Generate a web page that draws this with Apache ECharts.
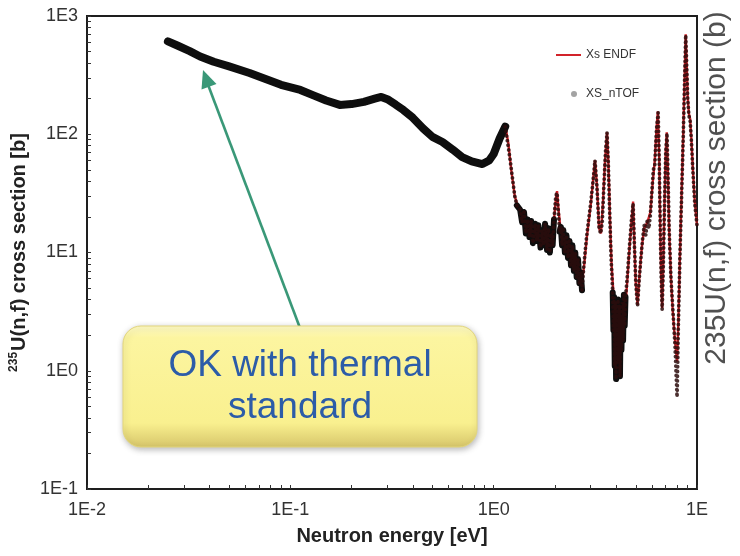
<!DOCTYPE html>
<html>
<head>
<meta charset="utf-8">
<script src="https://cdn.jsdelivr.net/npm/echarts@6/dist/echarts.min.js"></script>
<style>
  html, body { margin: 0; padding: 0; background: #ffffff; }
  #chart { width: 740px; height: 556px; }
</style>
</head>
<body>
<div id="chart"></div>
<script>
// Axis tick labels (log decades)
const xTickLabels = ['1E-2', '1E-1', '1E0', '1E'];
const yTickLabels = ['1E-1', '1E0', '1E1', '1E2', '1E3'];

// n_TOF measured 235U(n,f) cross section: energy [eV] and cross section [b]
const ntofEnergy = [
  0.025, 0.028, 0.032, 0.036, 0.042, 0.05, 0.063, 0.075, 0.09, 0.112,
  0.13, 0.15, 0.175, 0.2, 0.23, 0.26, 0.28, 0.3, 0.33, 0.36,
  0.4, 0.45, 0.5, 0.56, 0.63, 0.7, 0.78, 0.88, 0.95, 1.0,
  1.07, 1.14, 1.2, 1.27, 1.3, 1.35, 1.38, 1.41, 1.44, 1.47,
  1.5, 1.53, 1.56, 1.6, 1.63, 1.66, 1.7, 1.73, 1.76, 1.79,
  1.83, 1.86, 1.89, 1.92, 1.95, 1.98, 2.02, 2.05, 2.08, 2.11,
  2.14, 2.17, 2.2, 2.24, 2.28, 2.32, 2.36, 2.4, 2.44, 2.48,
  2.52, 2.56, 2.6, 2.64, 2.68, 2.72, 2.78, 2.85, 2.92, 3.0,
  3.08, 3.15, 3.22, 3.3, 3.36, 3.42, 3.48, 3.55, 3.61, 3.66,
  3.72, 3.78, 3.85, 3.88, 3.91, 3.94, 3.97, 4.0, 4.03, 4.06,
  4.09, 4.12, 4.15, 4.18, 4.21, 4.25, 4.29, 4.33, 4.37, 4.41,
  4.45, 4.55, 4.65, 4.75, 4.85, 4.92, 5.0, 5.1, 5.2, 5.3,
  5.4, 5.5, 5.6, 5.7, 5.8, 5.9, 6.0, 6.1, 6.2, 6.32,
  6.44, 6.52, 6.6, 6.67, 6.74, 6.82, 6.92, 7.02, 7.12, 7.2,
  7.3, 7.45, 7.6, 7.8, 7.98, 8.1, 8.25, 8.4, 8.55, 8.68,
  8.8, 8.9, 9.0, 9.12, 9.25, 9.38, 9.55, 9.75, 10.0
];
const ntofXs = [
  610, 560, 505, 455, 410, 375, 330, 295, 262, 237,
  213, 193, 177, 180, 188, 200, 207, 198, 178, 160,
  138, 112, 95, 86, 74, 64, 59, 56, 60, 68,
  92, 116, 64, 30, 25, 23, 18, 22, 14.5, 19,
  13.5, 18.5, 12, 17.5, 12.5, 17, 11, 15.5, 11.5, 17.5,
  10.5, 16, 10, 14.5, 11.5, 19, 30, 32, 22, 15,
  16.5, 11.5, 15.5, 10, 14, 9, 12.5, 7.8, 11.5, 7,
  10, 6.2, 8.8, 5.5, 6.8, 4.8, 8, 12.5, 18, 26,
  40, 60, 36, 16, 14.5, 18, 35, 72, 103, 58,
  22, 9, 4.6, 2.2, 4.2, 1.1, 3.8, 0.85, 3.2, 1.4,
  4.0, 1.2, 3.6, 0.9, 2.9, 1.5, 3.8, 1.8, 4.4, 2.4,
  4.2, 6.5, 11, 18, 26, 12, 5.5, 3.5, 6, 9,
  13, 17, 14, 19, 16, 21, 33, 50, 55, 110,
  152, 60, 15, 6, 3.3, 7, 25, 70, 102, 45,
  15, 6, 3.4, 1.6, 0.6, 2.5, 10, 30, 90, 260,
  690, 380, 200, 145, 130, 90, 48, 26, 17
];

// ENDF evaluated cross section: energy [eV] and cross section [b]
const endfEnergy = [
  1.0, 1.05, 1.1, 1.14, 1.18, 1.22, 1.27, 1.33, 1.45, 1.6,
  1.75, 1.9, 1.98, 2.03, 2.05, 2.08, 2.13, 2.25, 2.4, 2.55,
  2.7, 2.78, 2.88, 3.0, 3.1, 3.15, 3.22, 3.3, 3.37, 3.45,
  3.53, 3.61, 3.67, 3.73, 3.8, 3.9, 4.05, 4.2, 4.35, 4.45,
  4.55, 4.65, 4.75, 4.85, 4.92, 5.0, 5.1, 5.2, 5.35, 5.5,
  5.7, 5.9, 6.05, 6.2, 6.32, 6.42, 6.52, 6.6, 6.67, 6.74,
  6.82, 6.92, 7.02, 7.1, 7.2, 7.3, 7.45, 7.6, 7.8, 7.98,
  8.1, 8.25, 8.4, 8.55, 8.68, 8.8, 8.9, 9.0, 9.12, 9.25,
  9.38, 9.55, 9.75, 10.0
];
const endfXs = [
  68, 80, 105, 118, 85, 50, 30, 23, 17.5, 14.5,
  13.5, 14, 19, 30, 33, 24, 16, 12, 9.5, 7.5,
  5.2, 7.5, 14, 25, 45, 60, 37, 16, 14.5, 27,
  60, 104, 55, 20, 8, 4, 2.5, 2.2, 2.8, 3.6,
  6, 10.5, 17, 27, 12, 5.5, 3.6, 6, 11, 16,
  18, 22, 38, 60, 110, 156, 62, 15, 6, 3.4,
  7.5, 26, 72, 104, 44, 15, 6, 3.2, 1.8, 1.2,
  2.6, 10, 32, 95, 270, 700, 390, 210, 150, 135,
  92, 50, 27, 17
];

// log tick positions: 1..9 per decade
function logTicks(lo, hi) {
  const out = [];
  for (let d = lo; d < hi; d++) {
    for (let k = 1; k <= 9; k++) out.push(+(k * Math.pow(10, d)).toPrecision(3));
  }
  out.push(Math.pow(10, hi));
  return out;
}
const decadeIndex = v => Math.round(Math.log10(v));

const ntofPts = ntofEnergy.map((e, i) => [e, ntofXs[i]]);
const endfPts = endfEnergy.map((e, i) => [e, endfXs[i]]);

// the measured data is drawn as a dense black band where the points pile up,
// and as dotted markers over the evaluation in the resolved resonances
const noisyRanges = [[1.3, 1.98], [2.11, 2.72], [3.85, 4.45]];
const ntofColor = '#0e0e0e';
const endfColor = '#d2232a';

const series = [
  {
    name: 'Xs ENDF', type: 'line', data: endfPts, symbol: 'none', z: 2,
    itemStyle: { color: endfColor },
    lineStyle: { color: endfColor, width: 2.4 }
  },
  {
    name: 'XS_nTOF', type: 'line', data: ntofPts.filter(p => p[0] <= 1.14), symbol: 'none', z: 3,
    itemStyle: { color: ntofColor },
    lineStyle: { color: ntofColor, width: 8, cap: 'round', join: 'round' }
  }
];
noisyRanges.forEach(r => {
  series.push({
    name: 'XS_nTOF', type: 'line', symbol: 'none', z: 3,
    data: ntofPts.filter(p => p[0] >= r[0] && p[0] <= r[1]),
    itemStyle: { color: ntofColor },
    lineStyle: { color: ntofColor, width: 6, cap: 'round', join: 'round' }
  });
});
series.push({
  name: 'XS_nTOF', type: 'line', symbol: 'none', z: 4,
  data: ntofPts.filter(p => p[0] >= 1.14),
  itemStyle: { color: '#2c0c0c' },
  lineStyle: { color: '#2c0c0c', width: 3.8, type: [0.1, 4.6], cap: 'round', opacity: 0.85 }
});

const chart = echarts.init(document.getElementById('chart'), null, { renderer: 'canvas' });

chart.setOption({
  animation: false,
  backgroundColor: '#ffffff',
  textStyle: { fontFamily: 'Liberation Sans, Arial, sans-serif' },
  grid: {
    left: 87, right: 43, top: 16, bottom: 67,
    show: true, borderColor: '#1e1e1e', borderWidth: 2,
    outerBoundsMode: 'none'
  },
  legend: [
    {
      data: [{ name: 'Xs ENDF', icon: 'rect', itemStyle: { color: endfColor } }],
      left: 551, top: 44, orient: 'vertical',
      itemWidth: 25, itemHeight: 2, selectedMode: false,
      textStyle: { fontSize: 12, color: '#333' }
    },
    {
      data: [{ name: 'XS_nTOF', icon: 'circle', itemStyle: { color: '#a3a3a3' } }],
      left: 566, top: 83, orient: 'vertical',
      itemWidth: 6, itemHeight: 6, selectedMode: false,
      textStyle: { fontSize: 12, color: '#333', padding: [0, 0, 0, 4] }
    }
  ],
  xAxis: {
    type: 'log', logBase: 10, min: 0.01, max: 10,
    name: 'Neutron energy [eV]', nameLocation: 'middle', nameGap: 37,
    nameTextStyle: { fontSize: 20, fontWeight: 'bold', color: '#222' },
    axisLine: { show: true, lineStyle: { color: '#1e1e1e', width: 2 } },
    axisTick: { show: true, inside: true, length: 4, lineStyle: { color: '#333', width: 1 },
      customValues: logTicks(-2, 1) },
    minorTick: { show: false },
    splitLine: { show: false },
    axisLabel: {
      fontSize: 18, color: '#333', margin: 12,
      customValues: [0.01, 0.1, 1, 10],
      formatter: v => xTickLabels[decadeIndex(v) + 2]
    }
  },
  yAxis: {
    type: 'log', logBase: 10, min: 0.1, max: 1000,
    name: '{sup|235}{t|U(n,f) cross section [b]}', nameLocation: 'middle', nameGap: 50,
    nameRotate: 90,
    nameTextStyle: {
      fontSize: 20, fontWeight: 'bold', color: '#222',
      rich: {
        sup: { fontSize: 12, fontWeight: 'bold', color: '#222', verticalAlign: 'top', lineHeight: 22, padding: [0, 1, 8, 0] },
        t: { fontSize: 20, fontWeight: 'bold', color: '#222', lineHeight: 22 }
      }
    },
    axisLine: { show: true, lineStyle: { color: '#1e1e1e', width: 2 } },
    axisTick: { show: true, inside: true, length: 4, lineStyle: { color: '#333', width: 1 },
      customValues: logTicks(-1, 3) },
    minorTick: { show: false },
    splitLine: { show: false },
    axisLabel: {
      fontSize: 18, color: '#333', margin: 9,
      customValues: [0.1, 1, 10, 100, 1000],
      formatter: v => yTickLabels[decadeIndex(v) + 1]
    }
  },
  series: series,
  graphic: [
    {
      type: 'text', x: 717, y: 188, rotation: Math.PI / 2, z: 10,
      style: {
        text: '235U(n,f) cross section (b)', fill: '#505050',
        font: '30px "Liberation Sans", Arial, sans-serif',
        align: 'center', verticalAlign: 'middle'
      }
    },
    {
      type: 'line', z: 20,
      shape: { x1: 300, y1: 328, x2: 207, y2: 82 },
      style: { stroke: '#3a9878', lineWidth: 2.6 }
    },
    {
      type: 'polygon', z: 20,
      shape: { points: [[203, 70], [216.5, 84], [201.5, 89.5]] },
      style: { fill: '#3a9878' }
    },
    {
      type: 'rect', z: 30,
      shape: { x: 123, y: 326, width: 354, height: 121, r: 18 },
      style: {
        fill: new echarts.graphic.LinearGradient(0, 0, 0, 1, [
          { offset: 0, color: '#fffbc6' },
          { offset: 0.1, color: '#fcf5a0' },
          { offset: 0.8, color: '#f9f08f' },
          { offset: 1, color: '#d6c56a' }
        ]),
        stroke: '#e3d67c', lineWidth: 1,
        shadowBlur: 6, shadowColor: 'rgba(0,0,0,0.28)', shadowOffsetX: 1, shadowOffsetY: 2
      }
    },
    {
      type: 'text', z: 31, x: 300, y: 366,
      style: {
        text: 'OK with thermal', fill: '#2c5ca8',
        font: '37px "Liberation Sans", Arial, sans-serif',
        align: 'center', verticalAlign: 'middle'
      }
    },
    {
      type: 'text', z: 31, x: 300, y: 408,
      style: {
        text: 'standard', fill: '#2c5ca8',
        font: '37px "Liberation Sans", Arial, sans-serif',
        align: 'center', verticalAlign: 'middle'
      }
    }
  ]
});
</script>
</body>
</html>
